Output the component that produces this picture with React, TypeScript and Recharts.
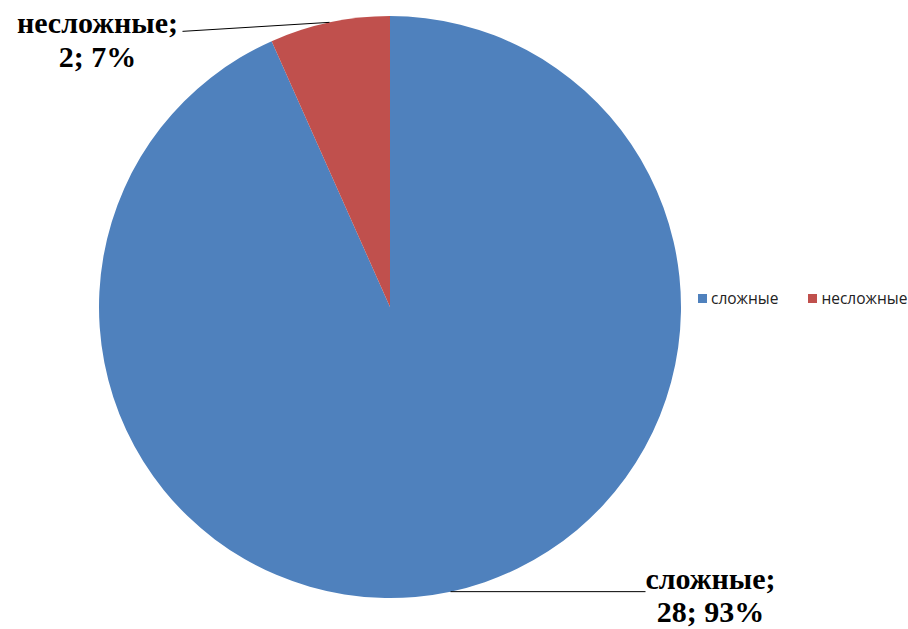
import { PieChart, Pie, Cell, Legend } from 'recharts'

const categories = ['сложные', 'несложные']
const values = [28, 2]
const colors = ['#4F81BD', '#C0504D']

const data = categories.map((name, i) => ({ name, value: values[i] }))
const total = values.reduce((a, b) => a + b, 0)

// where each leader line ends, relative to the slice's edge point, and how the text sits against it
const leaderOffsets = [
    { dx: 195, dy: 0, textDy: -3 },
    { dx: -147, dy: 9, textDy: 2 },
]

const RADIAN = Math.PI / 180

function renderLabel(props: any) {
    const { cx, cy, midAngle, outerRadius, index, name, value } = props
    const x0 = cx + outerRadius * Math.cos(-midAngle * RADIAN)
    const y0 = cy + outerRadius * Math.sin(-midAngle * RADIAN)
    const off = leaderOffsets[index]
    const x1 = x0 + off.dx
    const y1 = y0 + off.dy
    const right = off.dx > 0
    const pct = Math.round((value / total) * 100)
    const center = right ? x1 + 65 : x1 - 85
    const font = {
        textAnchor: 'middle' as const,
        fontFamily: "'Liberation Serif', 'Times New Roman', serif",
        fontWeight: 'bold' as const,
        fontSize: 30,
        fill: '#000',
    }
    return (
        <g key={'lbl' + index}>
            <line x1={x0} y1={y0} x2={x1} y2={y1} stroke="#000" strokeWidth={1} />
            <text x={center} y={y1 + off.textDy} {...font}>
                {name};
            </text>
            <text x={center} y={y1 + off.textDy + 33.5} {...font}>
                {value}; {pct}%
            </text>
        </g>
    )
}

function LegendContent() {
    return (
        <div style={{ display: 'flex', fontFamily: "'Open Sans', 'Liberation Sans', sans-serif", fontSize: 15.5, color: '#222', lineHeight: '18px' }}>
            {categories.map((c, i) => (
                <div key={c} style={{ display: 'flex', alignItems: 'center', marginRight: 30 }}>
                    <span style={{ width: 9, height: 9, background: colors[i], display: 'inline-block', marginRight: 4 }} />
                    <span>{c}</span>
                </div>
            ))}
        </div>
    )
}

export default function App() {
    return (
        <div style={{ position: 'absolute', left: 0, top: 0, width: 908, height: 629, background: '#fff' }}>
            <PieChart width={908} height={629} margin={{ top: 0, right: 0, bottom: 0, left: 0 }}>
                <Pie
                    data={data}
                    dataKey="value"
                    nameKey="name"
                    cx={390}
                    cy={307}
                    outerRadius={291}
                    startAngle={90}
                    endAngle={-270}
                    stroke="none"
                    label={renderLabel}
                    labelLine={false}
                    isAnimationActive={false}
                >
                    {data.map((d, i) => (
                        <Cell key={d.name} fill={colors[i]} />
                    ))}
                </Pie>
                <Legend content={<LegendContent />} wrapperStyle={{ position: 'absolute', left: 698, top: 289, width: 215 }} />
            </PieChart>
        </div>
    )
}
